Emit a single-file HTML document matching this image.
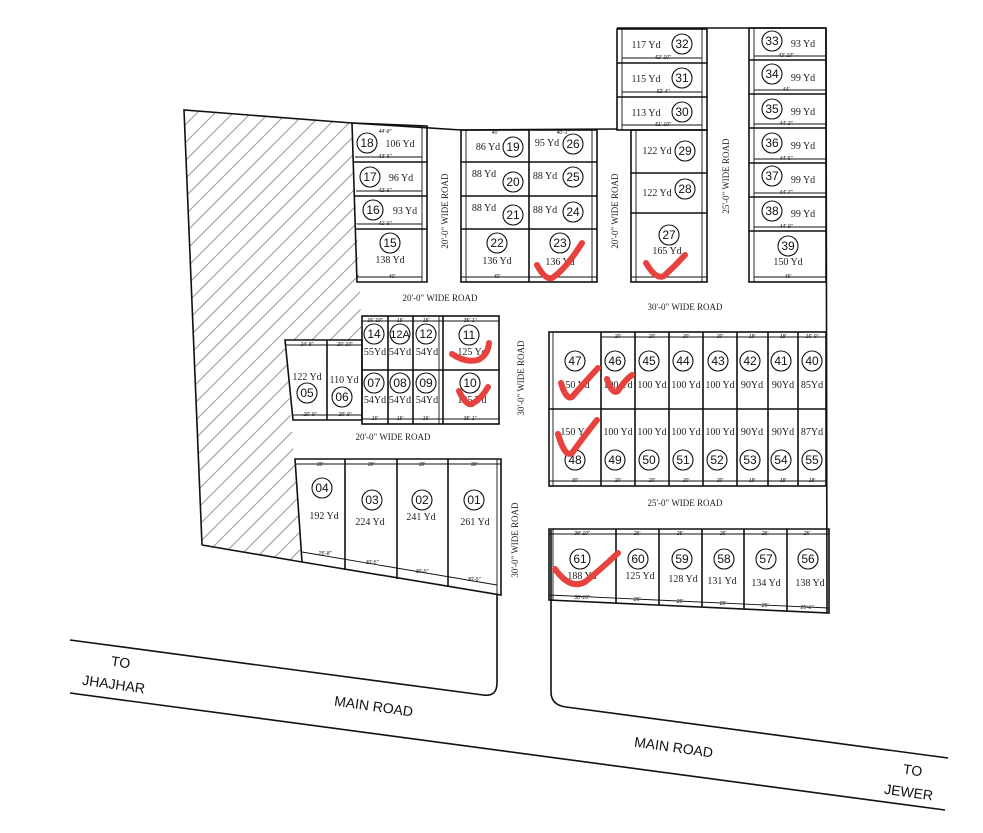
<!DOCTYPE html>
<html><head><meta charset="utf-8"><style>
html,body{margin:0;padding:0;background:#fff;}
svg{display:block;}
.b{fill:none;stroke:#111;stroke-width:1.6;}
.t{fill:none;stroke:#111;stroke-width:0.9;}
.c{fill:#fff;stroke:#111;stroke-width:1.1;}
.n{font-family:"Liberation Sans",sans-serif;font-size:12px;fill:#111;text-anchor:middle;}
.y{font-family:"Liberation Serif",serif;font-size:10px;fill:#222;text-anchor:middle;}
.r{font-family:"Liberation Serif",serif;font-size:9px;fill:#222;text-anchor:middle;}
.m{font-family:"Liberation Sans",sans-serif;font-size:14px;fill:#111;text-anchor:middle;}
.d{font-family:"Liberation Sans",sans-serif;font-size:5px;fill:#111;text-anchor:middle;font-style:italic;}
.k{fill:none;stroke:#e8423f;stroke-width:6;stroke-linecap:round;stroke-linejoin:round;}
.hl line{stroke:#999;stroke-width:1;}
</style></head><body>
<svg width="983" height="833" viewBox="0 0 983 833" xmlns="http://www.w3.org/2000/svg">
<defs>
<clipPath id="hc"><polygon points="184,110 352,123 362,340 285,340 302,562 202,545"/></clipPath>
</defs>
<rect width="983" height="833" fill="#fff"/>

<g clip-path="url(#hc)" class="hl">
<line x1="-480" y1="700" x2="120" y2="100"/><line x1="-462" y1="700" x2="138" y2="100"/><line x1="-444" y1="700" x2="156" y2="100"/><line x1="-426" y1="700" x2="174" y2="100"/><line x1="-408" y1="700" x2="192" y2="100"/><line x1="-390" y1="700" x2="210" y2="100"/><line x1="-372" y1="700" x2="228" y2="100"/><line x1="-354" y1="700" x2="246" y2="100"/><line x1="-336" y1="700" x2="264" y2="100"/><line x1="-318" y1="700" x2="282" y2="100"/><line x1="-300" y1="700" x2="300" y2="100"/><line x1="-282" y1="700" x2="318" y2="100"/><line x1="-264" y1="700" x2="336" y2="100"/><line x1="-246" y1="700" x2="354" y2="100"/><line x1="-228" y1="700" x2="372" y2="100"/><line x1="-210" y1="700" x2="390" y2="100"/><line x1="-192" y1="700" x2="408" y2="100"/><line x1="-174" y1="700" x2="426" y2="100"/><line x1="-156" y1="700" x2="444" y2="100"/><line x1="-138" y1="700" x2="462" y2="100"/><line x1="-120" y1="700" x2="480" y2="100"/><line x1="-102" y1="700" x2="498" y2="100"/><line x1="-84" y1="700" x2="516" y2="100"/><line x1="-66" y1="700" x2="534" y2="100"/><line x1="-48" y1="700" x2="552" y2="100"/><line x1="-30" y1="700" x2="570" y2="100"/><line x1="-12" y1="700" x2="588" y2="100"/><line x1="6" y1="700" x2="606" y2="100"/><line x1="24" y1="700" x2="624" y2="100"/><line x1="42" y1="700" x2="642" y2="100"/><line x1="60" y1="700" x2="660" y2="100"/><line x1="78" y1="700" x2="678" y2="100"/><line x1="96" y1="700" x2="696" y2="100"/><line x1="114" y1="700" x2="714" y2="100"/><line x1="132" y1="700" x2="732" y2="100"/><line x1="150" y1="700" x2="750" y2="100"/><line x1="168" y1="700" x2="768" y2="100"/><line x1="186" y1="700" x2="786" y2="100"/><line x1="204" y1="700" x2="804" y2="100"/><line x1="222" y1="700" x2="822" y2="100"/><line x1="240" y1="700" x2="840" y2="100"/><line x1="258" y1="700" x2="858" y2="100"/><line x1="276" y1="700" x2="876" y2="100"/><line x1="294" y1="700" x2="894" y2="100"/>
</g>
<polyline class="b" points="202,545 184,110 352,123 461,130"/>
<line class="b" x1="461" y1="130" x2="617" y2="129"/>
<line class="b" x1="202" y1="545" x2="302" y2="562"/>

<line class="b" x1="617" y1="28" x2="826" y2="28"/>
<line class="b" x1="826" y1="28" x2="827" y2="613"/>

<!-- Block A -->
<polygon class="b" points="352,123 427,126 427,282 357,282"/>
<line class="t" x1="422" y1="126" x2="422" y2="282"/>
<line class="b" x1="354" y1="162" x2="427" y2="162"/>
<line class="b" x1="355" y1="196" x2="427" y2="196"/>
<line class="b" x1="356" y1="229" x2="427" y2="229"/>
<line class="t" x1="355" y1="157" x2="422" y2="157"/><line class="t" x1="356" y1="191" x2="422" y2="191"/><line class="t" x1="357" y1="224" x2="422" y2="224"/><line class="t" x1="357" y1="277" x2="422" y2="277"/>
<text class="d" x="385" y="133">44'-8"</text><text class="d" x="385" y="158">43'-5"</text><text class="d" x="385" y="192">42'-6"</text><text class="d" x="385" y="225">41'-6"</text><text class="d" x="392" y="278">40'</text>

<!-- Block B -->
<rect class="b" x="461" y="130" width="136" height="152"/>
<line class="t" x1="466" y1="130" x2="466" y2="282"/><line class="t" x1="592" y1="130" x2="592" y2="282"/>
<line class="b" x1="529" y1="130" x2="529" y2="282"/>
<line class="b" x1="461" y1="162" x2="597" y2="162"/>
<line class="b" x1="461" y1="196" x2="597" y2="196"/>
<line class="b" x1="461" y1="229" x2="597" y2="229"/>
<line class="t" x1="461" y1="277" x2="597" y2="277"/>
<text class="d" x="495" y="134">40'</text><text class="d" x="563" y="134">40'-1"</text><text class="d" x="497" y="278">40'</text>

<!-- Block D -->
<rect class="b" x="617" y="29" width="90" height="101"/>
<line class="t" x1="622" y1="29" x2="622" y2="130"/><line class="t" x1="702" y1="29" x2="702" y2="130"/>
<line class="b" x1="617" y1="63" x2="707" y2="63"/>
<line class="b" x1="617" y1="97" x2="707" y2="97"/>
<line class="t" x1="622" y1="58" x2="702" y2="58"/><line class="t" x1="622" y1="92" x2="702" y2="92"/><line class="t" x1="622" y1="125" x2="702" y2="125"/>
<text class="d" x="663" y="59">52'-10"</text><text class="d" x="663" y="93">52'-4"</text><text class="d" x="663" y="126">51'-10"</text>

<!-- Block C -->
<rect class="b" x="631" y="130" width="76" height="152"/>
<line class="t" x1="636" y1="130" x2="636" y2="282"/><line class="t" x1="702" y1="130" x2="702" y2="282"/>
<line class="b" x1="631" y1="173" x2="707" y2="173"/>
<line class="b" x1="631" y1="213" x2="707" y2="213"/>
<line class="t" x1="631" y1="277" x2="707" y2="277"/>

<!-- Block E -->
<rect class="b" x="749" y="28" width="77" height="254"/>
<line class="t" x1="754" y1="28" x2="754" y2="282"/>
<line class="b" x1="749" y1="60" x2="826" y2="60"/>
<line class="b" x1="749" y1="94" x2="826" y2="94"/>
<line class="b" x1="749" y1="128" x2="826" y2="128"/>
<line class="b" x1="749" y1="163" x2="826" y2="163"/>
<line class="b" x1="749" y1="197" x2="826" y2="197"/>
<line class="b" x1="749" y1="231" x2="826" y2="231"/>
<line class="t" x1="754" y1="56" x2="826" y2="56"/><line class="t" x1="754" y1="90" x2="826" y2="90"/><line class="t" x1="754" y1="124" x2="826" y2="124"/><line class="t" x1="754" y1="159" x2="826" y2="159"/><line class="t" x1="754" y1="193" x2="826" y2="193"/><line class="t" x1="754" y1="227" x2="826" y2="227"/><line class="t" x1="754" y1="277" x2="826" y2="277"/>
<text class="d" x="786" y="57">43'-10"</text><text class="d" x="786" y="91">44'</text><text class="d" x="786" y="125">44'-2"</text><text class="d" x="786" y="160">44'-5"</text><text class="d" x="786" y="194">44'-7"</text><text class="d" x="786" y="228">44'-9"</text><text class="d" x="788" y="278">45'</text>

<!-- Block G -->
<polygon class="b" points="285,340 362,340 362,420 293,420"/>
<line class="b" x1="327" y1="340" x2="327" y2="420"/>
<line class="t" x1="286" y1="345" x2="362" y2="345"/><line class="t" x1="292" y1="415" x2="362" y2="415"/>
<text class="d" x="307" y="346">24'-8"</text><text class="d" x="345" y="346">20'-10"</text><text class="d" x="310" y="416">20'-9"</text><text class="d" x="345" y="416">20'-9"</text>

<!-- Block F -->
<rect class="b" x="362" y="316" width="137" height="108"/>
<line class="b" x1="362" y1="370" x2="499" y2="370"/>
<line class="b" x1="388" y1="316" x2="388" y2="424"/>
<line class="b" x1="413" y1="316" x2="413" y2="424"/>
<line class="b" x1="443" y1="316" x2="443" y2="424"/>
<line class="t" x1="439" y1="316" x2="439" y2="424"/>
<line class="t" x1="362" y1="321" x2="499" y2="321"/><line class="t" x1="362" y1="419" x2="499" y2="419"/>
<text class="d" x="375" y="322">15'-10"</text><text class="d" x="400" y="322">15'</text><text class="d" x="426" y="322">15'</text><text class="d" x="470" y="322">35'-1"</text>
<text class="d" x="375" y="420">15'</text><text class="d" x="400" y="420">15'</text><text class="d" x="426" y="420">15'</text><text class="d" x="470" y="420">35'-1"</text>

<!-- Block J -->
<polygon class="b" points="295,459 501,459 501,595 302,562"/>
<line class="t" x1="295" y1="464" x2="501" y2="464"/>
<line class="b" x1="345" y1="459" x2="345" y2="570"/>
<line class="b" x1="397" y1="459" x2="397" y2="579"/>
<line class="b" x1="448" y1="459" x2="448" y2="587"/>
<line class="t" x1="302" y1="552" x2="497" y2="585"/>
<line class="t" x1="497" y1="459" x2="497" y2="595"/>
<text class="d" x="320" y="466">30'</text><text class="d" x="371" y="466">30'</text><text class="d" x="422" y="466">30'</text><text class="d" x="474" y="466">30'</text>
<text class="d" x="325" y="555">25'-8"</text><text class="d" x="372" y="564">30'-5"</text><text class="d" x="422" y="573">30'-5"</text><text class="d" x="474" y="581">30'-5"</text>

<!-- Block H -->
<rect class="b" x="549" y="332" width="277" height="154"/>
<line class="t" x1="553" y1="332" x2="553" y2="486"/>
<line class="b" x1="549" y1="409" x2="826" y2="409"/>
<line class="t" x1="601" y1="337" x2="826" y2="337"/><line class="t" x1="549" y1="481" x2="826" y2="481"/>
<g class="b"><line x1="601" y1="332" x2="601" y2="486"/><line x1="635" y1="332" x2="635" y2="486"/><line x1="669" y1="332" x2="669" y2="486"/><line x1="703" y1="332" x2="703" y2="486"/><line x1="737" y1="332" x2="737" y2="486"/><line x1="768" y1="332" x2="768" y2="486"/><line x1="798" y1="332" x2="798" y2="486"/></g>
<text class="d" x="618" y="338">20'</text><text class="d" x="652" y="338">20'</text><text class="d" x="686" y="338">20'</text><text class="d" x="720" y="338">20'</text><text class="d" x="752" y="338">18'</text><text class="d" x="783" y="338">18'</text><text class="d" x="812" y="338">16'-9"</text>
<text class="d" x="575" y="482">30'</text><text class="d" x="618" y="482">20'</text><text class="d" x="652" y="482">20'</text><text class="d" x="686" y="482">20'</text><text class="d" x="720" y="482">20'</text><text class="d" x="752" y="482">18'</text><text class="d" x="783" y="482">18'</text><text class="d" x="812" y="482">18'</text>

<!-- Block I -->
<polygon class="b" points="549,529 829,529 829,613 549,600"/>
<line class="t" x1="553" y1="529" x2="553" y2="600"/>
<line class="t" x1="549" y1="534" x2="829" y2="534"/><line class="t" x1="549" y1="595" x2="829" y2="608"/>
<g class="b"><line x1="616" y1="529" x2="616" y2="603"/><line x1="659" y1="529" x2="659" y2="605"/><line x1="702" y1="529" x2="702" y2="607"/><line x1="744" y1="529" x2="744" y2="609"/><line x1="787" y1="529" x2="787" y2="611"/></g>
<text class="d" x="582" y="535">38'-10"</text><text class="d" x="637" y="535">25'</text><text class="d" x="680" y="535">25'</text><text class="d" x="723" y="535">25'</text><text class="d" x="765" y="535">25'</text><text class="d" x="807" y="535">25'</text>
<text class="d" x="582" y="599">38'-10"</text><text class="d" x="637" y="601">25'</text><text class="d" x="680" y="603">25'</text><text class="d" x="723" y="605">25'</text><text class="d" x="765" y="607">25'</text><text class="d" x="807" y="609">25'-6"</text>

<!-- main road -->
<path class="b" d="M70,640 L483,695 Q497,697 497,683 L497,595"/>
<path class="b" d="M551,530 L551,692 Q551,705 566,707 L948,758"/>
<line class="b" x1="70" y1="693" x2="945" y2="810"/>

<text class="r" transform="translate(448,211) rotate(-90)">20'-0" WIDE ROAD</text>
<text class="r" transform="translate(618,211) rotate(-90)">20'-0" WIDE ROAD</text>
<text class="r" transform="translate(729,176) rotate(-90)">25'-0" WIDE ROAD</text>
<text class="r" x="440" y="301">20'-0" WIDE ROAD</text>
<text class="r" x="685" y="310">30'-0" WIDE ROAD</text>
<text class="r" transform="translate(524,378) rotate(-90)">30'-0" WIDE ROAD</text>
<text class="r" x="393" y="440">20'-0" WIDE ROAD</text>
<text class="r" x="685" y="506">25'-0" WIDE ROAD</text>
<text class="r" transform="translate(518,540) rotate(-90)">30'-0" WIDE ROAD</text>

<text class="m" transform="translate(120,667) rotate(8)">TO</text>
<text class="m" transform="translate(113,689) rotate(8)">JHAJHAR</text>
<text class="m" transform="translate(373,711) rotate(8)">MAIN ROAD</text>
<text class="m" transform="translate(673,752) rotate(8)">MAIN ROAD</text>
<text class="m" transform="translate(912,775) rotate(8)">TO</text>
<text class="m" transform="translate(908,797) rotate(8)">JEWER</text>

<g>
<circle class="c" cx="367" cy="143" r="10"/><text class="n" x="367" y="147">18</text><text class="y" x="400" y="147">106 Yd</text>
<circle class="c" cx="370" cy="177" r="10"/><text class="n" x="370" y="181">17</text><text class="y" x="401" y="181">96 Yd</text>
<circle class="c" cx="373" cy="210" r="10"/><text class="n" x="373" y="214">16</text><text class="y" x="405" y="214">93 Yd</text>
<circle class="c" cx="390" cy="243" r="10"/><text class="n" x="390" y="247">15</text><text class="y" x="390" y="263">138 Yd</text>

<circle class="c" cx="513" cy="147" r="10"/><text class="n" x="513" y="151">19</text><text class="y" x="488" y="150">86 Yd</text>
<circle class="c" cx="573" cy="144" r="10"/><text class="n" x="573" y="148">26</text><text class="y" x="547" y="146">95 Yd</text>
<circle class="c" cx="513" cy="182" r="10"/><text class="n" x="513" y="186">20</text><text class="y" x="484" y="177">88 Yd</text>
<circle class="c" cx="573" cy="177" r="10"/><text class="n" x="573" y="181">25</text><text class="y" x="545" y="179">88 Yd</text>
<circle class="c" cx="513" cy="215" r="10"/><text class="n" x="513" y="219">21</text><text class="y" x="484" y="211">88 Yd</text>
<circle class="c" cx="573" cy="212" r="10"/><text class="n" x="573" y="216">24</text><text class="y" x="545" y="213">88 Yd</text>
<circle class="c" cx="497" cy="243" r="10"/><text class="n" x="497" y="247">22</text><text class="y" x="497" y="264">136 Yd</text>
<circle class="c" cx="560" cy="243" r="10"/><text class="n" x="560" y="247">23</text><text class="y" x="560" y="265">136 Yd</text>

<circle class="c" cx="682" cy="44" r="10"/><text class="n" x="682" y="48">32</text><text class="y" x="646" y="48">117 Yd</text>
<circle class="c" cx="682" cy="78" r="10"/><text class="n" x="682" y="82">31</text><text class="y" x="646" y="82">115 Yd</text>
<circle class="c" cx="682" cy="112" r="10"/><text class="n" x="682" y="116">30</text><text class="y" x="646" y="116">113 Yd</text>
<circle class="c" cx="685" cy="151" r="10"/><text class="n" x="685" y="155">29</text><text class="y" x="657" y="154">122 Yd</text>
<circle class="c" cx="685" cy="189" r="10"/><text class="n" x="685" y="193">28</text><text class="y" x="657" y="196">122 Yd</text>
<circle class="c" cx="669" cy="235" r="10"/><text class="n" x="669" y="239">27</text><text class="y" x="667" y="254">165 Yd</text>

<circle class="c" cx="772" cy="41" r="10"/><text class="n" x="772" y="45">33</text><text class="y" x="803" y="47">93 Yd</text>
<circle class="c" cx="772" cy="74" r="10"/><text class="n" x="772" y="78">34</text><text class="y" x="803" y="81">99 Yd</text>
<circle class="c" cx="772" cy="109" r="10"/><text class="n" x="772" y="113">35</text><text class="y" x="803" y="115">99 Yd</text>
<circle class="c" cx="772" cy="143" r="10"/><text class="n" x="772" y="147">36</text><text class="y" x="803" y="149">99 Yd</text>
<circle class="c" cx="772" cy="176" r="10"/><text class="n" x="772" y="180">37</text><text class="y" x="803" y="183">99 Yd</text>
<circle class="c" cx="772" cy="211" r="10"/><text class="n" x="772" y="215">38</text><text class="y" x="803" y="217">99 Yd</text>
<circle class="c" cx="788" cy="246" r="10"/><text class="n" x="788" y="250">39</text><text class="y" x="788" y="265">150 Yd</text>

<circle class="c" cx="374" cy="334" r="10"/><text class="n" x="374" y="338">14</text><text class="y" x="375" y="355">55Yd</text>
<circle class="c" cx="400" cy="334" r="10"/><text class="n" x="400" y="338" style="font-size:11px">12A</text><text class="y" x="400" y="355">54Yd</text>
<circle class="c" cx="426" cy="334" r="10"/><text class="n" x="426" y="338">12</text><text class="y" x="427" y="355">54Yd</text>
<circle class="c" cx="469" cy="335" r="10"/><text class="n" x="469" y="339">11</text><text class="y" x="472" y="355">125 Yd</text>
<circle class="c" cx="374" cy="383" r="10"/><text class="n" x="374" y="387">07</text><text class="y" x="375" y="403">54Yd</text>
<circle class="c" cx="400" cy="383" r="10"/><text class="n" x="400" y="387">08</text><text class="y" x="400" y="403">54Yd</text>
<circle class="c" cx="426" cy="383" r="10"/><text class="n" x="426" y="387">09</text><text class="y" x="427" y="403">54Yd</text>
<circle class="c" cx="470" cy="383" r="10"/><text class="n" x="470" y="387">10</text><text class="y" x="472" y="403">125 Yd</text>

<circle class="c" cx="307" cy="393" r="10"/><text class="n" x="307" y="397">05</text><text class="y" x="307" y="380">122 Yd</text>
<circle class="c" cx="342" cy="397" r="10"/><text class="n" x="342" y="401">06</text><text class="y" x="344" y="383">110 Yd</text>

<circle class="c" cx="322" cy="488" r="10"/><text class="n" x="322" y="492">04</text><text class="y" x="324" y="519">192 Yd</text>
<circle class="c" cx="372" cy="500" r="10"/><text class="n" x="372" y="504">03</text><text class="y" x="370" y="525">224 Yd</text>
<circle class="c" cx="422" cy="500" r="10"/><text class="n" x="422" y="504">02</text><text class="y" x="421" y="520">241 Yd</text>
<circle class="c" cx="474" cy="500" r="10"/><text class="n" x="474" y="504">01</text><text class="y" x="475" y="525">261 Yd</text>

<circle class="c" cx="575" cy="361" r="10"/><text class="n" x="575" y="365">47</text><text class="y" x="575" y="388">150 Yd</text>
<circle class="c" cx="615" cy="361" r="10"/><text class="n" x="615" y="365">46</text><text class="y" x="618" y="388">100 Yd</text>
<circle class="c" cx="649" cy="361" r="10"/><text class="n" x="649" y="365">45</text><text class="y" x="652" y="388">100 Yd</text>
<circle class="c" cx="683" cy="361" r="10"/><text class="n" x="683" y="365">44</text><text class="y" x="686" y="388">100 Yd</text>
<circle class="c" cx="718" cy="361" r="10"/><text class="n" x="718" y="365">43</text><text class="y" x="720" y="388">100 Yd</text>
<circle class="c" cx="750" cy="361" r="10"/><text class="n" x="750" y="365">42</text><text class="y" x="752" y="388">90Yd</text>
<circle class="c" cx="781" cy="361" r="10"/><text class="n" x="781" y="365">41</text><text class="y" x="783" y="388">90Yd</text>
<circle class="c" cx="812" cy="361" r="10"/><text class="n" x="812" y="365">40</text><text class="y" x="812" y="388">85Yd</text>

<text class="y" x="575" y="435">150 Yd</text><circle class="c" cx="575" cy="460" r="10"/><text class="n" x="575" y="464">48</text>
<text class="y" x="618" y="435">100 Yd</text><circle class="c" cx="615" cy="460" r="10"/><text class="n" x="615" y="464">49</text>
<text class="y" x="652" y="435">100 Yd</text><circle class="c" cx="649" cy="460" r="10"/><text class="n" x="649" y="464">50</text>
<text class="y" x="686" y="435">100 Yd</text><circle class="c" cx="683" cy="460" r="10"/><text class="n" x="683" y="464">51</text>
<text class="y" x="720" y="435">100 Yd</text><circle class="c" cx="717" cy="460" r="10"/><text class="n" x="717" y="464">52</text>
<text class="y" x="752" y="435">90Yd</text><circle class="c" cx="750" cy="460" r="10"/><text class="n" x="750" y="464">53</text>
<text class="y" x="783" y="435">90Yd</text><circle class="c" cx="781" cy="460" r="10"/><text class="n" x="781" y="464">54</text>
<text class="y" x="812" y="435">87Yd</text><circle class="c" cx="812" cy="460" r="10"/><text class="n" x="812" y="464">55</text>

<circle class="c" cx="580" cy="559" r="10"/><text class="n" x="580" y="563">61</text><text class="y" x="582" y="579">188 Yd</text>
<circle class="c" cx="638" cy="559" r="10"/><text class="n" x="638" y="563">60</text><text class="y" x="640" y="579">125 Yd</text>
<circle class="c" cx="682" cy="559" r="10"/><text class="n" x="682" y="563">59</text><text class="y" x="683" y="582">128 Yd</text>
<circle class="c" cx="724" cy="559" r="10"/><text class="n" x="724" y="563">58</text><text class="y" x="722" y="584">131 Yd</text>
<circle class="c" cx="766" cy="559" r="10"/><text class="n" x="766" y="563">57</text><text class="y" x="766" y="586">134 Yd</text>
<circle class="c" cx="808" cy="559" r="10"/><text class="n" x="808" y="563">56</text><text class="y" x="810" y="586">138 Yd</text>
</g>

<path class="k" d="M537,265 Q545,280 552,278 Q565,270 582,243"/>
<path class="k" d="M646,263 Q656,280 664,276 Q675,266 685,255"/>
<path class="k" d="M452,354 Q465,363 478,360 Q488,355 489,343"/>
<path class="k" d="M459,391 Q466,406 472,404 Q482,398 488,387"/>
<path class="k" d="M561,383 Q566,400 572,397 Q585,382 598,368"/>
<path class="k" d="M607,379 Q612,395 618,391 Q625,380 632,375"/>
<path class="k" d="M558,434 Q565,458 572,453 Q585,435 597,420"/>
<path class="k" d="M555,569 Q570,590 585,582 Q600,570 618,553"/>
</svg>
</body></html>
